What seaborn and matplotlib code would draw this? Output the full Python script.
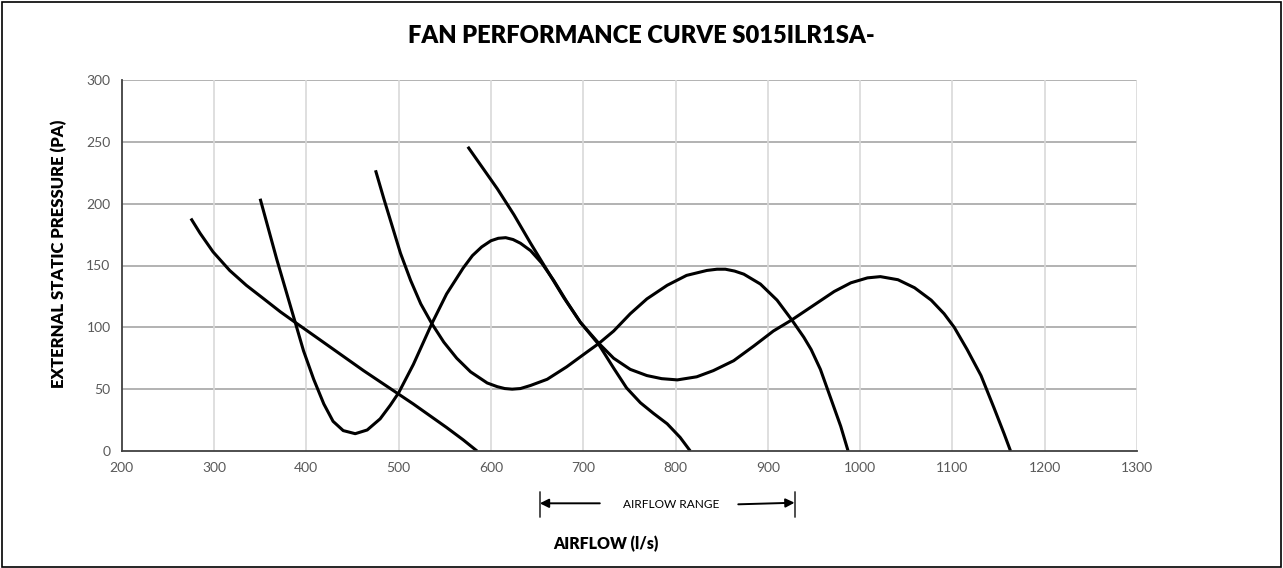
import numpy as np
import pandas as pd
import matplotlib
matplotlib.use("Agg")
import matplotlib.pyplot as plt
import matplotlib.transforms as mtransforms
import seaborn as sns

# Curve data (airflow l/s, external static pressure Pa)
curve1_x = [275, 285, 299, 317, 335, 354, 372, 388, 408, 426, 444, 462, 480, 498, 516, 534, 552, 570, 585]
curve1_y = [188, 176, 161, 146, 134, 123, 112.5, 104, 93.5, 84, 74.5, 65, 56, 47, 38, 28.5, 19, 9, 0]

curve2_x = [350, 368, 388, 397, 408, 419, 429, 440, 453, 466, 480, 491, 500, 516, 536, 552, 570, 580, 590,
            600, 608, 616, 624, 632, 643, 655, 668, 682, 697, 717, 733, 747, 762, 776, 791, 805, 816]
curve2_y = [204, 155, 104, 81, 58, 38, 24, 16.5, 14, 17, 26, 37, 47, 70, 103, 127, 148, 158, 165,
            170, 172, 172.5, 171, 168, 162, 152, 138, 121, 104, 86, 67, 51, 39, 30.5, 22, 11, 0]

curve3_x = [475, 484, 493, 502, 513, 524, 536, 549, 563, 578, 596, 607, 615, 623, 632, 643, 661, 682, 704, 717,
            733, 751, 769, 791, 812, 834, 845, 854, 864, 874, 892, 910, 926, 939, 947, 957, 968, 979, 987]
curve3_y = [227, 204, 182, 160, 138, 119, 103, 88, 75, 64, 55, 52, 50.5, 50, 50.5, 53, 58, 68, 80, 87,
            97, 111, 123, 134, 142, 146, 147, 147, 145.5, 143, 135, 122, 106, 92, 82, 66, 43, 20, 0]

curve4_x = [575, 607, 625, 643, 661, 679, 697, 717, 733, 751, 769, 785, 802, 823, 841, 863, 885, 906, 926,
            946, 954, 972, 990, 1008, 1022, 1041, 1059, 1077, 1091, 1102, 1116, 1131, 1145, 1156, 1163]
curve4_y = [246, 212, 191, 168, 146, 124, 104, 87, 75, 66, 61, 58.5, 57.5, 60, 65, 73, 85, 97, 106,
            116, 120, 129, 136, 140, 141, 138.5, 132, 122, 111, 100, 82, 61, 35, 14, 0]

x_ticks = [200, 300, 400, 500, 600, 700, 800, 900, 1000, 1100, 1200, 1300]
y_ticks = [0, 50, 100, 150, 200, 250, 300]
range_lo, range_hi = 653, 929
arrow_left_tail, arrow_right_tail = 718, 868

rows = []
for name, xs, ys in [("c1", curve1_x, curve1_y), ("c2", curve2_x, curve2_y),
                     ("c3", curve3_x, curve3_y), ("c4", curve4_x, curve4_y)]:
    for i, (a, b) in enumerate(zip(xs, ys)):
        rows.append({"curve": name, "order": i, "airflow": a, "pressure": b})
df = pd.DataFrame(rows)

sns.set_theme(style="white")
plt.rcParams['font.family'] = ['Lato', 'DejaVu Sans']

fig = plt.figure(figsize=(12.83, 5.68), dpi=100)
ax = fig.add_axes([121.7 / 1283, 1 - 451 / 568, (1137 - 121.7) / 1283, (451 - 80) / 568])

sns.lineplot(data=df, x="airflow", y="pressure", units="curve", estimator=None,
             sort=False, color="black", linewidth=2.2, ax=ax, legend=False)
for ln in ax.lines:
    ln.set_solid_joinstyle("round")
    ln.set_solid_capstyle("butt")

ax.set_xlim(200, 1300)
ax.set_ylim(0, 300)
ax.set_xticks(x_ticks)
ax.set_yticks(y_ticks)
ax.grid(False)
for v in y_ticks[1:]:
    ax.axhline(v, color="#a6a6a6", linewidth=1.2, zorder=0)
for v in x_ticks[1:]:
    ax.axvline(v, color="#d9d9d9", linewidth=1.2, zorder=0)
for s in ["top", "right"]:
    ax.spines[s].set_visible(False)
for s in ["left", "bottom"]:
    ax.spines[s].set_color("#404040")
    ax.spines[s].set_linewidth(1.3)
ax.tick_params(axis="both", length=0, labelsize=10, labelcolor="#595959", pad=8)
ax.set_xlabel("")
ax.set_ylabel("EXTERNAL STATIC PRESSURE (PA)", fontsize=12, fontweight="heavy",
              color="black")
ax.yaxis.set_label_coords((67 - 121.7) / 1015.3, (451 - 254) / 371)

fig.text(641 / 1283, 1 - 36 / 568, "FAN PERFORMANCE CURVE S015ILR1SA-", ha="center",
         va="center", fontsize=17.1, fontweight="heavy", color="black")
fig.text(606 / 1283, 1 - 544 / 568, "AIRFLOW (l/s)", ha="center", va="center",
         fontsize=11.4, fontweight="heavy", color="black")

# Airflow range annotation
trans = mtransforms.blended_transform_factory(ax.transData, ax.transAxes)
for xv in [range_lo, range_hi]:
    ax.plot([xv, xv], [-0.110, -0.177], transform=trans, color="#404040",
            linewidth=1.3, clip_on=False)
ax.annotate("", xy=(range_lo, -0.141), xytext=(arrow_left_tail, -0.141),
            xycoords=trans, textcoords=trans,
            arrowprops=dict(arrowstyle="-|>", color="black", lw=1.4,
                            shrinkA=0, shrinkB=0, mutation_scale=13))
ax.annotate("", xy=(range_hi, -0.1394), xytext=(arrow_right_tail, -0.1437),
            xycoords=trans, textcoords=trans,
            arrowprops=dict(arrowstyle="-|>", color="black", lw=1.4,
                            shrinkA=0, shrinkB=0, mutation_scale=13))
ax.text(200 + (671.5 - 121.7) / 0.923, -0.145, "AIRFLOW RANGE", transform=trans,
        ha="center", va="center", fontsize=8.6, color="black")

# Figure border
fig.patches.append(plt.Rectangle((0.0015, 0.002), 0.997, 0.995, transform=fig.transFigure,
                                 fill=False, edgecolor="black", linewidth=1.2))

fig.savefig("out.png", dpi=100)
